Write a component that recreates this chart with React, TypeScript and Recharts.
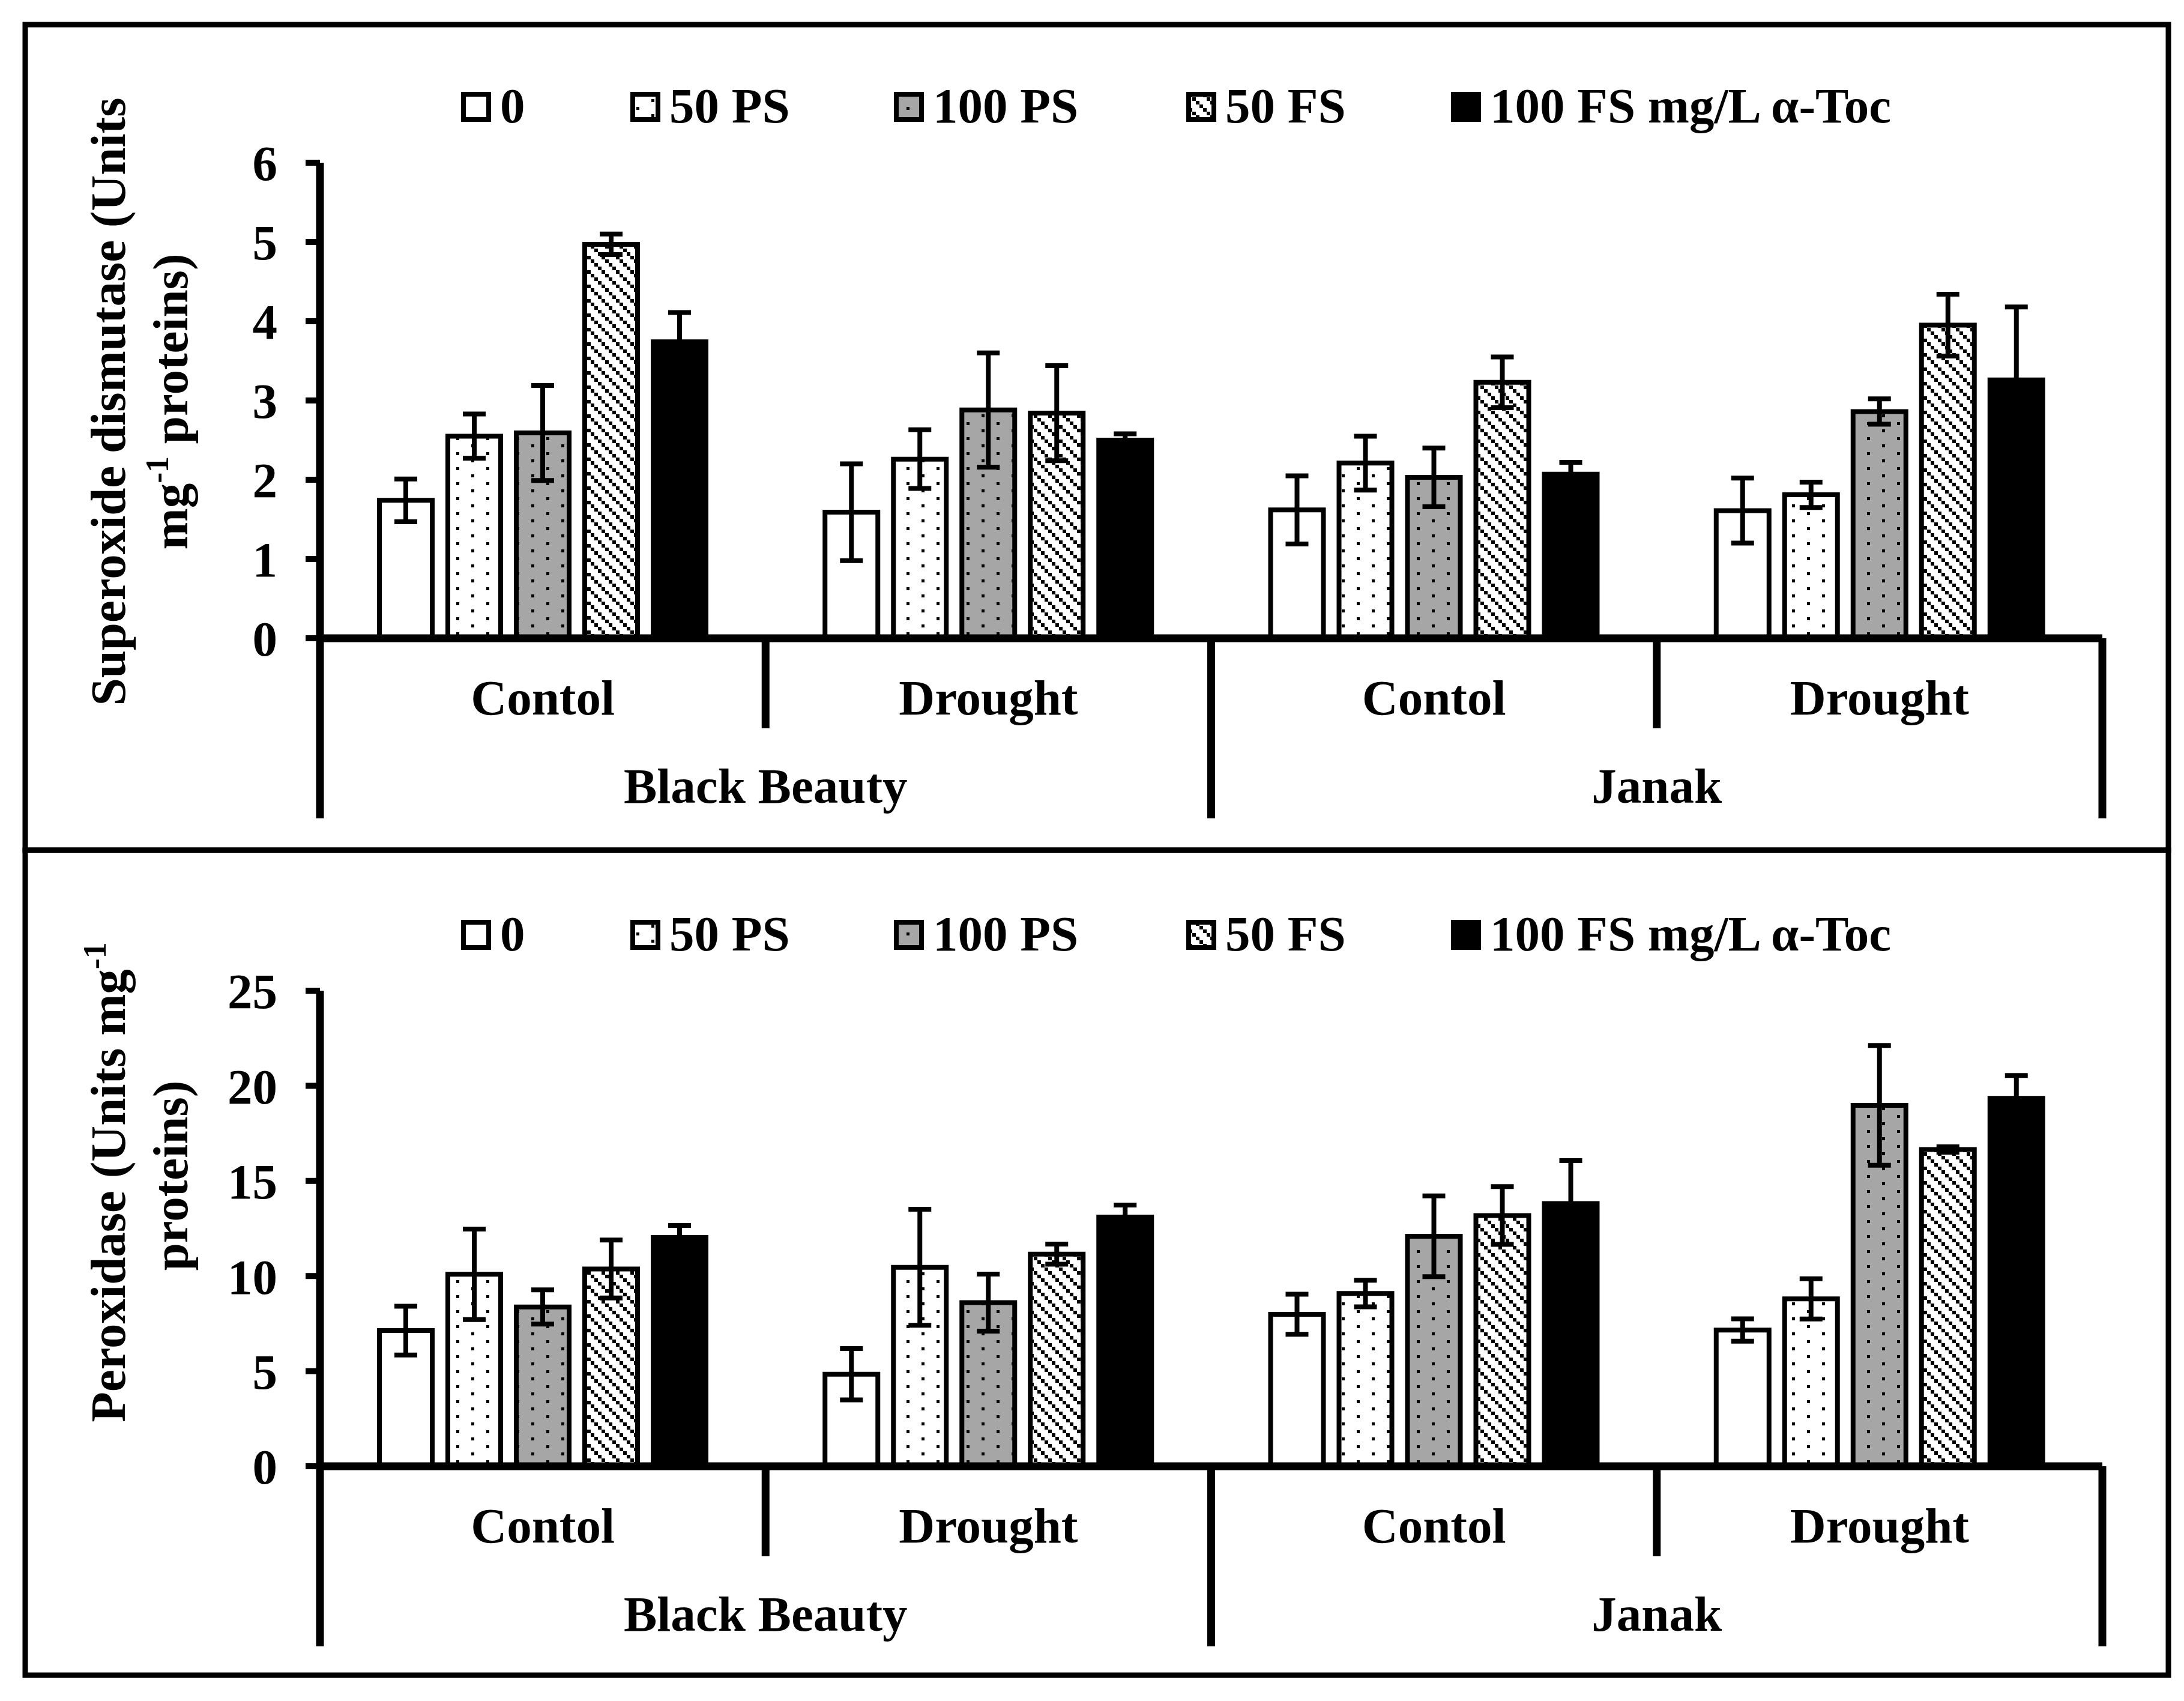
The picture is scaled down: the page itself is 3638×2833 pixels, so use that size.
import React from 'react';
import { BarChart, Bar, XAxis, YAxis, ErrorBar } from 'recharts';

// ---------- data ----------
const CONDITIONS = ['Contol', 'Drought', 'Contol', 'Drought'];
const VARIETIES = ['Black Beauty', 'Black Beauty', 'Janak', 'Janak'];
const SERIES = ['0', '50 PS', '100 PS', '50 FS', '100 FS mg/L α-Toc'];

// Superoxide dismutase (Units mg-1 proteins)
const SOD_0 = [1.74, 1.59, 1.62, 1.61];
const SOD_0_ERR = [0.27, 0.61, 0.43, 0.41];
const SOD_50PS = [2.55, 2.26, 2.21, 1.81];
const SOD_50PS_ERR = [0.28, 0.37, 0.34, 0.16];
const SOD_100PS = [2.59, 2.88, 2.03, 2.86];
const SOD_100PS_ERR = [0.6, 0.72, 0.37, 0.16];
const SOD_50FS = [4.97, 2.84, 3.23, 3.95];
const SOD_50FS_ERR = [0.13, 0.6, 0.32, 0.39];
const SOD_100FS = [3.74, 2.5, 2.07, 3.26];
const SOD_100FS_ERR = [0.37, 0.08, 0.15, 0.92];
const SOD_TICKS = [0, 1, 2, 3, 4, 5, 6];

// Peroxidase (Units mg-1 proteins)
const POD_0 = [7.13, 4.84, 7.99, 7.16];
const POD_0_ERR = [1.28, 1.35, 1.05, 0.59];
const POD_50PS = [10.09, 10.46, 9.08, 8.8];
const POD_50PS_ERR = [2.38, 3.05, 0.7, 1.06];
const POD_100PS = [8.37, 8.6, 12.09, 18.97];
const POD_100PS_ERR = [0.9, 1.5, 2.12, 3.15];
const POD_50FS = [10.37, 11.15, 13.18, 16.65];
const POD_50FS_ERR = [1.52, 0.53, 1.52, 0.14];
const POD_100FS = [12.03, 13.1, 13.81, 19.34];
const POD_100FS_ERR = [0.63, 0.63, 2.26, 1.2];
const POD_TICKS = [0, 5, 10, 15, 20, 25];

// ---------- layout / style ----------
const FONT = '"Liberation Serif", "Times New Roman", Times, serif';
const FS = 83;
const W = 3638;
const PANEL_H = 1379;
const Y_AXIS_W = 533;
const RIGHT_M = 136;
const TOP_M = 271;
const X_AXIS_H = 316;
const PLOT_W = W - Y_AXIS_W - RIGHT_M;
const FILLS = ['#ffffff', 'url(#dotsWhite)', 'url(#dotsGray)', 'url(#hatch)', '#000000'];
const LEGEND_X = [768, 1050, 1489, 1976, 2417];

function buildRows(vals: number[][], errs: number[][]) {
  return CONDITIONS.map((c, i) => {
    const row: any = { key: `${VARIETIES[i]}|${c}|${i}`, cond: c, variety: VARIETIES[i] };
    vals.forEach((arr, s) => {
      row[`v${s}`] = arr[i];
      row[`e${s}`] = errs[s][i];
    });
    return row;
  });
}

const SOD_ROWS = buildRows(
  [SOD_0, SOD_50PS, SOD_100PS, SOD_50FS, SOD_100FS],
  [SOD_0_ERR, SOD_50PS_ERR, SOD_100PS_ERR, SOD_50FS_ERR, SOD_100FS_ERR]
);
const POD_ROWS = buildRows(
  [POD_0, POD_50PS, POD_100PS, POD_50FS, POD_100FS],
  [POD_0_ERR, POD_50PS_ERR, POD_100PS_ERR, POD_50FS_ERR, POD_100FS_ERR]
);

const textStyle = { fontFamily: FONT, fontWeight: 'bold' as const, fontSize: FS, fill: '#000' };

function CatTick(props: any) {
  const { x, y, index } = props;
  const bw = PLOT_W / CONDITIONS.length;
  const isVarietyEnd = index % 2 === 1;
  const rightLen = isVarietyEnd ? 300 : 150;
  return (
    <g>
      <text x={x} y={y + 127} textAnchor="middle" style={textStyle}>
        {CONDITIONS[index]}
      </text>
      <line x1={x + bw / 2} x2={x + bw / 2} y1={y} y2={y + rightLen} stroke="#000" strokeWidth={13} />
      {index === 0 && (
        <line x1={x - bw / 2} x2={x - bw / 2} y1={y} y2={y + 300} stroke="#000" strokeWidth={13} />
      )}
      {isVarietyEnd && (
        <text x={x - bw / 2} y={y + 274} textAnchor="middle" style={textStyle}>
          {VARIETIES[index]}
        </text>
      )}
    </g>
  );
}

function Panel({ rows, ticks }: { rows: any[]; ticks: number[] }) {
  return (
    <BarChart
      width={W}
      height={PANEL_H}
      data={rows}
      margin={{ top: TOP_M, right: RIGHT_M, bottom: 0, left: 0 }}
      barGap={26}
    >
      <XAxis
        dataKey="key"
        type="category"
        interval={0}
        height={X_AXIS_H}
        tickSize={0}
        tickMargin={0}
        tickLine={false}
        axisLine={{ stroke: '#000', strokeWidth: 13 }}
        tick={<CatTick />}
      />
      <YAxis
        width={Y_AXIS_W}
        domain={[0, ticks[ticks.length - 1]]}
        ticks={ticks}
        interval={0}
        tickSize={24}
        tickMargin={47}
        tickLine={{ stroke: '#000', strokeWidth: 10 }}
        axisLine={{ stroke: '#000', strokeWidth: 13 }}
        tick={textStyle}
      />
      {SERIES.map((name, s) => (
        <Bar
          key={name}
          name={name}
          dataKey={`v${s}`}
          fill={FILLS[s]}
          stroke="#000"
          strokeWidth={8}
          barSize={88}
          isAnimationActive={false}
        >
          <ErrorBar dataKey={`e${s}`} width={19} strokeWidth={8} stroke="#000" direction="y" />
        </Bar>
      ))}
    </BarChart>
  );
}

function Legend({ top }: { top: number }) {
  return (
    <g>
      {SERIES.map((name, s) => (
        <g key={name}>
          <rect x={LEGEND_X[s] + 4} y={top + 4} width={42} height={42} fill={FILLS[s]} stroke="#000" strokeWidth={8} />
          <text x={LEGEND_X[s] + 65} y={top + 51} style={textStyle}>
            {name}
          </text>
        </g>
      ))}
    </g>
  );
}

export default function App() {
  return (
    <div style={{ position: 'absolute', left: 0, top: 0, width: W, height: 2833, background: '#fff' }}>
      <svg width={0} height={0} style={{ position: 'absolute' }}>
        <defs>
          <pattern id="dotsWhite" width={50} height={25} patternUnits="userSpaceOnUse">
            <rect width={50} height={25} fill="#fff" />
            <rect x={10} y={3} width={5} height={5} fill="#000" />
            <rect x={35} y={15} width={5} height={5} fill="#000" />
          </pattern>
          <pattern id="dotsGray" width={50} height={25} patternUnits="userSpaceOnUse">
            <rect width={50} height={25} fill="#a6a6a6" />
            <rect x={10} y={3} width={5} height={5} fill="#000" />
            <rect x={35} y={15} width={5} height={5} fill="#000" />
          </pattern>
          <pattern id="hatch" width={24} height={24} patternUnits="userSpaceOnUse">
            <rect width={24} height={24} fill="#fff" />
            <rect x={0} y={0} width={6} height={6} fill="#000" />
            <rect x={6} y={6} width={6} height={6} fill="#000" />
            <rect x={12} y={12} width={6} height={6} fill="#000" />
            <rect x={18} y={18} width={6} height={6} fill="#000" />
          </pattern>
        </defs>
      </svg>
      <div style={{ position: 'absolute', left: 0, top: 0 }}>
        <Panel rows={SOD_ROWS} ticks={SOD_TICKS} />
      </div>
      <div style={{ position: 'absolute', left: 0, top: PANEL_H }}>
        <Panel rows={POD_ROWS} ticks={POD_TICKS} />
      </div>
      <svg width={W} height={2833} style={{ position: 'absolute', left: 0, top: 0, pointerEvents: 'none' }}>
        <rect x={42} y={41} width={3570} height={1375} fill="none" stroke="#000" strokeWidth={9} />
        <rect x={42} y={1416} width={3570} height={1374} fill="none" stroke="#000" strokeWidth={9} />
        <Legend top={153} />
        <Legend top={153 + PANEL_H} />
        <g transform="translate(208,669) rotate(-90)">
          <text x={0} y={0} textAnchor="middle" style={textStyle}>Superoxide dismutase (Units</text>
        </g>
        <g transform="translate(312,669) rotate(-90)">
          <text x={0} y={0} textAnchor="middle" style={textStyle}>
            mg<tspan fontSize={54} dy={-32}>-1</tspan>
            <tspan dy={32}> proteins)</tspan>
          </text>
        </g>
        <g transform={`translate(208,${PANEL_H + 590}) rotate(-90)`}>
          <text x={0} y={0} textAnchor="middle" style={textStyle}>
            Peroxidase (Units mg<tspan fontSize={54} dy={-32}>-1</tspan>
          </text>
        </g>
        <g transform={`translate(312,${PANEL_H + 579}) rotate(-90)`}>
          <text x={0} y={0} textAnchor="middle" style={textStyle}>proteins)</text>
        </g>
      </svg>
    </div>
  );
}
